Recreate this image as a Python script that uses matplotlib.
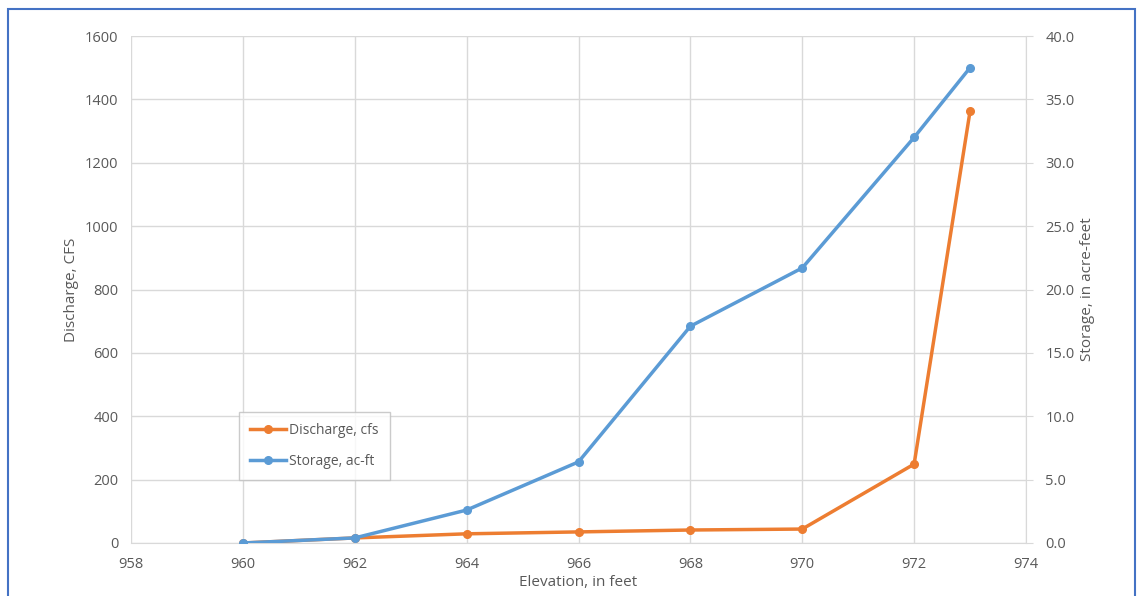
import matplotlib.pyplot as plt
from matplotlib.patches import Rectangle

# --- data ---
elevation = [960, 962, 964, 966, 968, 970, 972, 973]
discharge = [0, 16, 29, 35, 41, 44, 249, 1363]
storage = [0.0, 0.4, 2.6, 6.4, 17.1, 21.7, 32.0, 37.5]

x_ticks = list(range(958, 975, 2))
q_ticks = list(range(0, 1601, 200))
s_ticks = [0, 5, 10, 15, 20, 25, 30, 35, 40]

orange = "#ED7D31"
blue = "#5B9BD5"
grey_txt = "#595959"
grid_c = "#D9D9D9"

plt.rcParams['font.family'] = ['Open Sans', 'DejaVu Sans']

fig = plt.figure(figsize=(11.37, 5.96), dpi=100)
ax = fig.add_axes([131 / 1137, 1 - 543 / 596, (1026 - 131) / 1137, (543 - 36) / 596])
ax2 = ax.twinx()

ax.plot(elevation, discharge, color=orange, lw=2.5, marker="o", ms=5.5,
        label="Discharge, cfs", zorder=3)
ax2.plot(elevation, storage, color=blue, lw=2.5, marker="o", ms=5.5,
         label="Storage, ac-ft", zorder=3)

ax.set_xlim(958, 974)
ax.set_ylim(0, 1600)
ax2.set_ylim(0, 40)
ax.set_xticks(x_ticks)
ax.set_yticks(q_ticks)
ax2.set_yticks(s_ticks)
ax2.set_yticklabels([f"{v:.1f}" for v in s_ticks])

ax.grid(True, color=grid_c, lw=1)
ax.set_axisbelow(True)
for a in (ax, ax2):
    for s in a.spines.values():
        s.set_visible(False)
ax.spines["bottom"].set_visible(True)
ax.spines["bottom"].set_color(grid_c)
ax2.spines["right"].set_visible(True)
ax2.spines["right"].set_color(grid_c)

ax.tick_params(axis="x", length=0, labelsize=10.5, colors=grey_txt, pad=10)
ax.tick_params(axis="y", length=0, labelsize=10.5, colors=grey_txt, pad=9)
ax2.tick_params(axis="y", length=5, color=grid_c, labelsize=10.5,
                labelcolor=grey_txt, pad=9)

ax.set_xlabel("Elevation, in feet", fontsize=11, color=grey_txt, labelpad=2)
ax.set_ylabel("Discharge, CFS", fontsize=11, color=grey_txt, labelpad=4)
ax2.set_ylabel("Storage, in acre-feet", fontsize=11, color=grey_txt, labelpad=4)

# legend (combined from both axes)
h1, l1 = ax.get_legend_handles_labels()
h2, l2 = ax2.get_legend_handles_labels()
leg = ax2.legend(h1 + h2, l1 + l2, loc="lower left",
                 bbox_to_anchor=(0.113, 0.11), fontsize=10, frameon=True,
                 fancybox=False, edgecolor="#BFBFBF", labelspacing=1.15,
                 handlelength=2.6, handletextpad=0.2, borderpad=0.8,
                 labelcolor=grey_txt)
leg.get_frame().set_linewidth(1)

# outer chart border
fig.patches.append(Rectangle((8 / 1137, -0.05), 1127 / 1137, 1.05 - 9 / 596,
                             transform=fig.transFigure, fill=False,
                             edgecolor="#4472C4", lw=1.5))

fig.savefig("out.png", dpi=100)
